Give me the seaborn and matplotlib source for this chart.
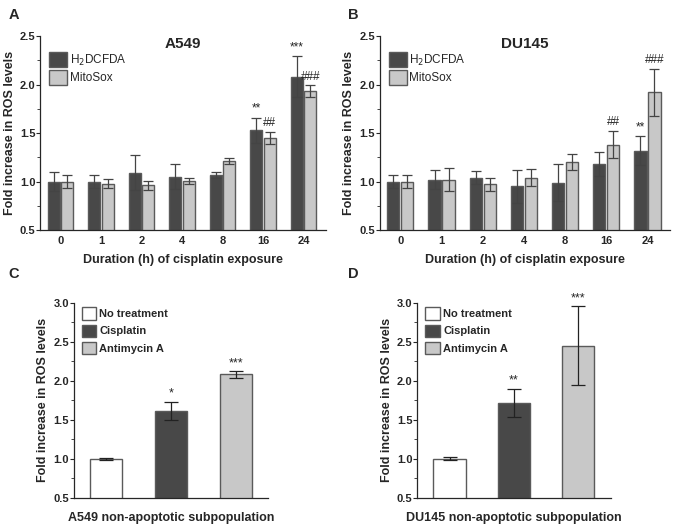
import numpy as np
import pandas as pd
import matplotlib
matplotlib.use('Agg')
import matplotlib.pyplot as plt
from matplotlib.ticker import MultipleLocator
import seaborn as sns

sns.set_style('ticks')
plt.rcParams['font.family'] = ['Liberation Sans', 'DejaVu Sans']

# ---- data ----
hours = ['0', '1', '2', '4', '8', '16', '24']
probes = ['H$_2$DCFDA', 'MitoSox']

a549_h2 = [1.00, 1.00, 1.09, 1.05, 1.07, 1.53, 2.08]
a549_h2_err = [0.10, 0.07, 0.18, 0.13, 0.03, 0.13, 0.21]
a549_mito = [1.00, 0.98, 0.96, 1.01, 1.21, 1.45, 1.93]
a549_mito_err = [0.07, 0.05, 0.05, 0.03, 0.03, 0.06, 0.06]

du145_h2 = [1.00, 1.02, 1.04, 0.95, 0.99, 1.18, 1.32]
du145_h2_err = [0.07, 0.10, 0.07, 0.17, 0.19, 0.12, 0.15]
du145_mito = [1.00, 1.02, 0.97, 1.04, 1.20, 1.38, 1.92]
du145_mito_err = [0.07, 0.12, 0.07, 0.09, 0.08, 0.14, 0.24]

# significance marks (hour index, probe, text)
a549_sig = [(5, 0, '**'), (5, 1, '##'), (6, 0, '***'), (6, 1, '###')]
du145_sig = [(5, 1, '##'), (6, 0, '**'), (6, 1, '###')]

treatments = ['No treatment', 'Cisplatin', 'Antimycin A']
a549_np = [1.00, 1.61, 2.08]
a549_np_err = [0.01, 0.12, 0.04]
a549_np_sig = ['', '*', '***']
du145_np = [1.00, 1.71, 2.45]
du145_np_err = [0.02, 0.18, 0.50]
du145_np_sig = ['', '**', '***']

DARK = '#484848'
LIGHT = '#c8c8c8'
EDGE = '#5a5a5a'

fig = plt.figure(figsize=(6.83, 5.29), dpi=100)


def style_axes(ax, ylim, major):
    sns.despine(ax=ax)
    ax.set_ylim(*ylim)
    ax.yaxis.set_major_locator(MultipleLocator(major))
    ax.yaxis.set_minor_locator(MultipleLocator(major / 2))
    ax.yaxis.set_major_formatter(matplotlib.ticker.FormatStrFormatter('%.1f'))
    ax.tick_params(axis='both', labelsize=8, width=0.8, length=3)
    ax.tick_params(axis='y', pad=0.5)
    ax.tick_params(axis='y', which='minor', length=2, width=0.6)
    ax.tick_params(axis='x', length=0, pad=4)
    for lab in ax.get_xticklabels() + ax.get_yticklabels():
        lab.set_fontweight('bold')
    for sp in ['left', 'bottom']:
        ax.spines[sp].set_linewidth(0.9)
    ax.set_ylabel('Fold increase in ROS levels', fontsize=9, fontweight='bold',
                  labelpad=3)


def time_panel(rect, title, h2, h2e, mito, mitoe, sig, letter, lx, ly):
    ax = fig.add_axes(rect)
    df = pd.DataFrame({
        'hour': hours * 2,
        'probe': [probes[0]] * len(hours) + [probes[1]] * len(hours),
        'value': h2 + mito,
    })
    sns.barplot(data=df, x='hour', y='value', hue='probe', order=hours,
                hue_order=probes, palette=[DARK, LIGHT], errorbar=None,
                width=0.68, gap=0.12, edgecolor=EDGE, linewidth=1.0, ax=ax)
    errs = h2e + mitoe
    vals = h2 + mito
    bars = [p for p in ax.patches if p.get_height() > 0][:len(vals)]
    for i, p in enumerate(bars):
        cx = p.get_x() + p.get_width() / 2
        ax.errorbar(cx, vals[i], yerr=errs[i], color='#444444', capsize=3.5,
                    elinewidth=0.9, capthick=0.9)
    for hi, pi, txt in sig:
        p = bars[pi * len(hours) + hi]
        cx = p.get_x() + p.get_width() / 2
        top = vals[pi * len(hours) + hi] + errs[pi * len(hours) + hi]
        ax.text(cx, top + 0.03, txt, ha='center', va='bottom', fontsize=8.5)
    style_axes(ax, (0.5, 2.5), 0.5)
    ax.set_xlim(-0.5, 6.55)
    ax.set_xlabel('Duration (h) of cisplatin exposure', fontsize=9,
                  fontweight='bold', labelpad=6)
    ax.set_title(title, fontsize=11, fontweight='bold', pad=-6, y=0.98)
    ax.legend(loc='upper left', bbox_to_anchor=(0.015, 0.94), frameon=False,
              fontsize=8.5, handlelength=1.5, handleheight=1.55,
              handletextpad=0.25, labelspacing=0.2, borderaxespad=0)
    fig.text(lx, ly, letter, fontsize=10.5, fontweight='bold')
    return ax


def treat_panel(rect, xlabel, vals, errs, sig, letter, lx, ly):
    ax = fig.add_axes(rect)
    df = pd.DataFrame({'treatment': treatments, 'value': vals})
    sns.barplot(data=df, x='treatment', y='value', hue='treatment',
                order=treatments, palette=['white', DARK, LIGHT],
                errorbar=None, width=0.5, edgecolor=EDGE, linewidth=1.0,
                legend=True, ax=ax)
    for i in range(len(vals)):
        ax.errorbar(i, vals[i], yerr=errs[i], color='#222222', capsize=5,
                    elinewidth=0.9, capthick=0.9)
        if sig[i]:
            ax.text(i, vals[i] + errs[i] + 0.03, sig[i], ha='center',
                    va='bottom', fontsize=9)
    style_axes(ax, (0.5, 3.0), 0.5)
    ax.set_xlim(-0.5, 2.5)
    ax.set_xticks(range(3))
    ax.set_xticklabels(['', '', ''])
    ax.set_xlabel(xlabel, fontsize=9, fontweight='bold', labelpad=6)
    ax.legend(loc='upper left', bbox_to_anchor=(0.018, 1.0),
              frameon=False, handlelength=1.3, handleheight=1.35,
              handletextpad=0.3, labelspacing=0.45, borderaxespad=0,
              prop={'weight': 'bold', 'size': 8})
    fig.text(lx, ly, letter, fontsize=10.5, fontweight='bold')
    return ax


time_panel([0.059, 0.565, 0.418, 0.367], 'A549', a549_h2, a549_h2_err,
           a549_mito, a549_mito_err, a549_sig, 'A', 0.012, 0.965)
time_panel([0.556, 0.565, 0.425, 0.367], 'DU145', du145_h2, du145_h2_err,
           du145_mito, du145_mito_err, du145_sig, 'B', 0.51, 0.965)
treat_panel([0.108, 0.059, 0.285, 0.369], 'A549 non-apoptotic subpopulation',
            a549_np, a549_np_err, a549_np_sig, 'C', 0.012, 0.475)
treat_panel([0.611, 0.059, 0.283, 0.369], 'DU145 non-apoptotic subpopulation',
            du145_np, du145_np_err, du145_np_sig, 'D', 0.51, 0.475)

fig.savefig('out.png', dpi=100)
